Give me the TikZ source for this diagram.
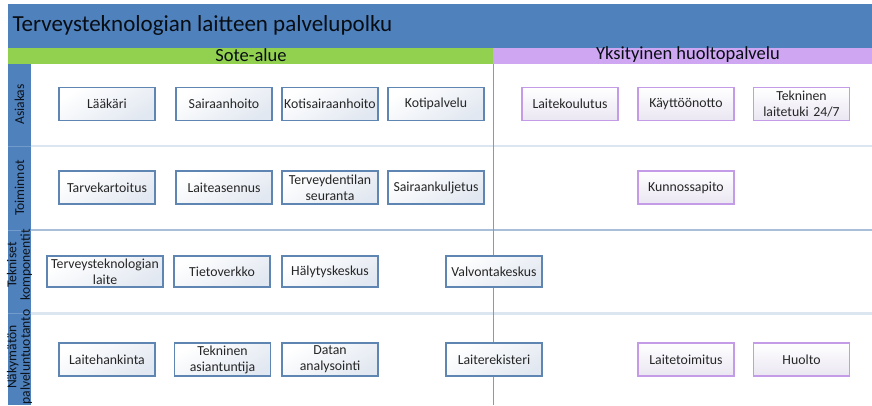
\documentclass[tikz,border=0pt]{standalone}
\usepackage{fontspec}
\setmainfont{Carlito}
\definecolor{headblue}{HTML}{4F81BD}
\definecolor{soteGreen}{HTML}{92D050}
\definecolor{privPurple}{HTML}{CFA6F2}
\definecolor{soteEdge}{HTML}{5F86B3}
\definecolor{privEdge}{HTML}{C49BE6}
\definecolor{boxShade}{HTML}{E2E8F1}
\definecolor{privShade}{HTML}{EAE6F2}
\definecolor{sepLight}{HTML}{DCE6F1}
\definecolor{sepMid}{HTML}{A9BFD8}
\definecolor{divider}{HTML}{7F9CC0}
\definecolor{txt}{HTML}{262626}
\tikzset{
  px/.style={x=1pt,y=-1pt},
  sotebox/.style={draw=soteEdge, line width=1.3pt, top color=white, bottom color=boxShade,
    shading angle=30, minimum width=96pt, minimum height=33pt, inner sep=0pt,
    text width=96pt, align=center, font=\fontsize{13.8}{16}\selectfont, text=txt},
  privbox/.style={sotebox, draw=privEdge, bottom color=privShade},
  lanelabel/.style={rotate=90, align=center, font=\fontsize{13.6}{13.5}\selectfont, text=black!85!headblue},
  bandlabel/.style={font=\fontsize{18.5}{19}\selectfont, text=black!90!headblue}
}
\begin{document}
\begin{tikzpicture}[px]
\useasboundingbox (0,0) rectangle (872,405);
\fill[white] (0,0) rectangle (872,405);

% header bar and organisation bands
\fill[headblue] (8,3.5) rectangle (872,47.5);
\node[anchor=west, font=\fontsize{23}{26}\selectfont, text=black!90!headblue] (title) at (9,25) {Terveysteknologian laitteen palvelupolku};
\fill[soteGreen] (8,47.5) rectangle (493,63.5);
\fill[privPurple] (493,47.5) rectangle (872,63.5);
\node[bandlabel] (sote) at (251,55) {Sote-alue};
\node[bandlabel] (priv) at (688,55) {Yksityinen huoltopalvelu};

% lane separators
\draw[sepLight, line width=2pt] (8,146) -- (872,146);
\draw[sepMid, line width=1.2pt] (31,230) -- (872,230);
\draw[sepLight, line width=3pt] (31,313) -- (872,313);

% lane header column
\fill[headblue] (8,63.5) rectangle (31,405);
\draw[headblue!80!white, line width=0.6pt] (8,146) -- (31,146) (8,230) -- (31,230) (8,313) -- (31,313);

% divider between the two organisations
\coordinate (divtop) at (493,63.5);
\coordinate (divbot) at (493,405);
\draw[divider, line width=0.8pt] (divtop) -- (divbot);

% lane titles
\node[lanelabel] (l1) at (19.5,104.5) {Asiakas};
\node[lanelabel] (l2) at (19.5,188) {Toiminnot};
\node[lanelabel] (l3) at (19.5,265) {Tekniset\\komponentit};
\node[lanelabel] (l4) at (19.5,357) {Näkymätön\\palveluntuotanto};

% Asiakas
\node[sotebox] (laakari) at (107,104) {Lääkäri};
\node[sotebox] (sairaanhoito) at (224,104) {Sairaanhoito};
\node[sotebox] (kotisairaanhoito) at (330,104) {Kotisairaanhoito};
\node[sotebox] (kotipalvelu) at (436,104) {Kotipalvelu};
\node[privbox] (laitekoulutus) at (570,104) {Laitekoulutus};
\node[privbox] (kayttoonotto) at (686,104) {Käyttöönotto};
\node[privbox] (laitetuki) at (801.5,104) {Tekninen\\laitetuki 24/7};

% Toiminnot
\node[sotebox] (tarvekartoitus) at (107,187.5) {Tarvekartoitus};
\node[sotebox] (laiteasennus) at (224,187.5) {Laiteasennus};
\node[sotebox] (seuranta) at (330,187.5) {Terveydentilan\\seuranta};
\node[sotebox] (sairaankuljetus) at (436,187.5) {Sairaankuljetus};
\node[privbox] (kunnossapito) at (686,187.5) {Kunnossapito};

% Tekniset komponentit
\node[sotebox, minimum width=116pt, text width=116pt, minimum height=31pt] (laite) at (105,271.5) {Terveysteknologian\\laite};
\node[sotebox, minimum height=31pt] (tietoverkko) at (222,271.5) {Tietoverkko};
\node[sotebox, minimum height=31pt] (halytyskeskus) at (330,271.5) {Hälytyskeskus};
\node[sotebox, minimum height=31pt] (valvontakeskus) at (494,271.5) {Valvontakeskus};

% Näkymätön palveluntuotanto
\node[sotebox] (laitehankinta) at (107,359.5) {Laitehankinta};
\node[sotebox] (asiantuntija) at (222.5,359.5) {Tekninen\\asiantuntija};
\node[sotebox] (analysointi) at (330,359.5) {Datan\\analysointi};
\node[sotebox] (laiterekisteri) at (494,359.5) {Laiterekisteri};
\node[privbox] (laitetoimitus) at (686,359.5) {Laitetoimitus};
\node[privbox] (huolto) at (801.5,359.5) {Huolto};
\end{tikzpicture}
\end{document}
